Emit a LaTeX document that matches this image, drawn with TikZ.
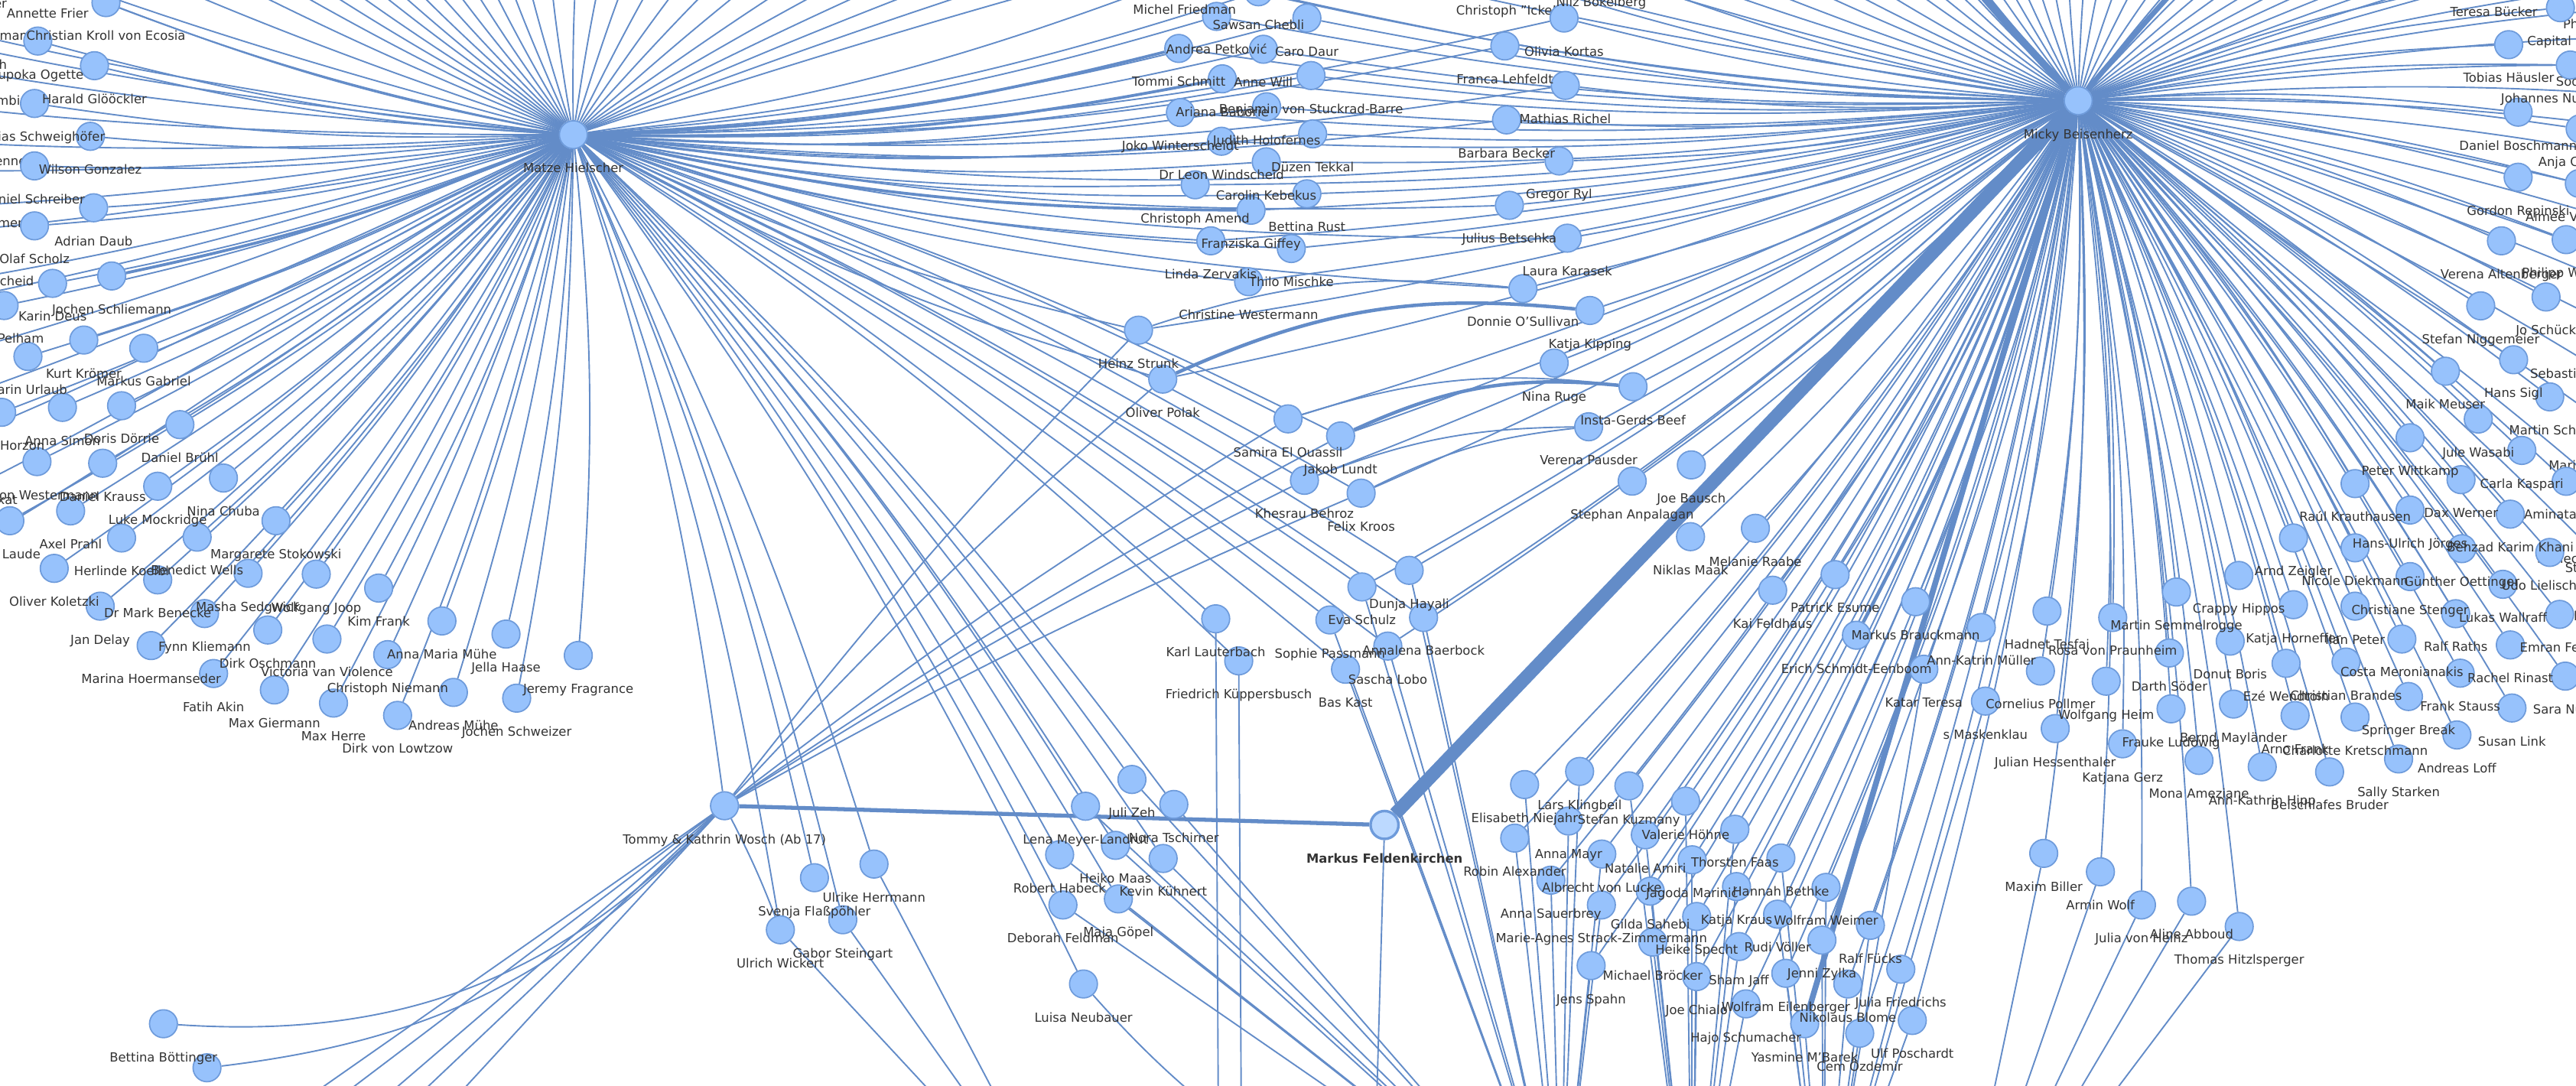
\documentclass[tikz,border=0pt]{standalone}
\usepackage{fontspec}
\setmainfont{DejaVu Sans}
\usetikzlibrary{calc}
\definecolor{edgec}{HTML}{638CC8}
\definecolor{nodef}{HTML}{97C2FC}
\definecolor{nodeb}{HTML}{6E9BDB}
\definecolor{selfill}{HTML}{BCD9FF}
\definecolor{labc}{HTML}{343434}
\pgfdeclarelayer{bg}
\pgfdeclarelayer{edges}
\pgfdeclarelayer{labels}
\pgfsetlayers{bg,edges,main,labels}
\tikzset{
 dot/.style={circle, fill=nodef, draw=nodeb, line width=0.45pt, minimum size=0.34cm, inner sep=0pt},
 lab/.style={font=\fontsize{4.35pt}{5pt}\selectfont, text=labc, inner sep=0pt, text height=3.2pt, text depth=0.9pt},
 ed/.style={draw=edgec, line width=0.5pt},
 edb/.style={draw=edgec, line width=1pt},
 bl/.style={bend left=5},
 br/.style={bend right=6},
}
\newcommand\pn[4]{\node[dot] (#1) at (#2,#3) {};\begin{pgfonlayer}{labels}\node[lab] (#1-l) at (#2,#3+21) {#4};\end{pgfonlayer}}
\newcommand\pnE[5]{\node[dot] (#1) at (#2,#3) {};\begin{pgfonlayer}{labels}\node[lab,anchor=east] (#1-l) at (#5,#3+21) {#4};\end{pgfonlayer}}
\newcommand\pnW[5]{\node[dot] (#1) at (#2,#3) {};\begin{pgfonlayer}{labels}\node[lab,anchor=west] (#1-l) at (#5,#3+21) {#4};\end{pgfonlayer}}
\begin{document}
\begin{tikzpicture}[x=0.02cm,y=-0.02cm]
\useasboundingbox (0,0) rectangle (1568,661);
\begin{pgfonlayer}{bg}\fill[white] (0,0) rectangle (1568,661);\end{pgfonlayer}
% fragments of labels of nodes outside the frame
\node[lab,anchor=east] (fr1) at (4.5,3) {er};
\node[lab,anchor=east] (fr2) at (22,22.5) {emann};
\node[lab,anchor=east] (fr3) at (4.5,40) {h};
\node[lab,anchor=east] (fr4) at (29,62) {mbiegel};
\node[lab,anchor=east] (fr5) at (19.5,99) {enner};
\node[lab,anchor=east] (fr6) at (16,136.5) {men};
\node[lab,anchor=east] (fr7) at (21,172) {cheid};
\node[lab,anchor=east] (fr8) at (11,305) {xat};
\node[lab,anchor=west] (fr9) at (1559.75,15.5) {Ph};
\node[lab,anchor=west] (fr10) at (1555.5,50.4) {Söder};
\node[lab,anchor=west] (fr11) at (1539.75,228) {Sebastian};
\node[lab,anchor=west] (fr12) at (1551,284.3) {Marie};
\node[lab,anchor=west] (fr13) at (1544,341) {Schlecky Silberstein};
\node[lab,anchor=west] (fr14) at (1561,346.4) {St};
\node[lab,anchor=west] (fr15) at (1559.75,375.6) {Til};
\node[dot] (cic) at (917,-14) {};
\node[lab,anchor=west] (cic-l) at (886,7) {Christoph "Icke"};
% hubs
\pn{MZ}{349}{82}{Matze Hielscher}
\pn{MK}{1265}{61.3}{Micky Beisenherz}
\pn{TW}{441}{490.5}{Tommy \& Kathrin Wosch (Ab 17)}
\node[dot, fill=selfill, line width=0.9pt] (MF) at (842.75,502.2) {};
\begin{pgfonlayer}{labels}\node[lab, font=\fontsize{4.35pt}{5pt}\selectfont\bfseries] (MF-l) at (842.75,523.2) {Markus Feldenkirchen};\end{pgfonlayer}
% left cluster
\pn{ann}{29}{-12}{Annette Frier}
\pn{ckv}{64.5}{1.6}{Christian Kroll von Ecosia}
\pnE{tog}{23}{25}{Tupoka Ogette}{51.25}
\pn{hgl}{57.5}{40}{Harald Glööckler}
\pnE{msw}{21}{63}{Matthias Schweighöfer}{64.25}
\pn{wgo}{55}{83}{Wilson Gonzalez}
\pnE{dsc}{21}{101}{Daniel Schreiber}{52}
\pn{ada}{57}{126.5}{Adrian Daub}
\pn{osc}{21}{137.5}{Olaf Scholz}
\pn{jsl}{68}{168}{Jochen Schliemann}
\pn{kde}{32}{172.5}{Karin Deus}
\pnE{mpe}{2.5}{186}{Moses Pelham}{27}
\pn{kkr}{51}{207}{Kurt Krömer}
\pn{mga}{87.5}{212}{Markus Gabriel}
\pnE{fur}{17}{217}{Farin Urlaub}{41.25}
\pnE{rho}{1}{251}{Rafael Horzon}{27.5}
\pn{asi}{38}{248}{Anna Simon}
\pn{ddo}{74}{247}{Doris Dörrie}
\pn{dbr}{109.5}{258.5}{Daniel Brühl}
\pn{owe}{22.5}{281}{Simon Westermann}
\pn{dkr}{62.5}{282}{Daniel Krauss}
\pn{lmo}{96}{296}{Luke Mockridge}
\pn{apr}{43}{311}{Axel Prahl}
\pnE{lau}{6}{317}{Laude}{25}
\pn{nch}{136}{291}{Nina Chuba}
\pn{bwe}{120}{327}{Benedict Wells}
\pn{hko}{74}{327.5}{Herlinde Koelbl}
\pn{mst}{168}{317}{Margarete Stokowski}
\pn{oko}{33}{346}{Oliver Koletzki}
\pn{mbe}{96}{353}{Dr Mark Benecke}
\pn{mse}{151}{349}{Masha Sedgwick}
\pn{wjo}{192.5}{349.5}{Wolfgang Joop}
\pn{jde}{61}{369}{Jan Delay}
\pn{fkl}{124.5}{373.5}{Fynn Kliemann}
\pn{kfr}{230.5}{358}{Kim Frank}
\pn{mho}{92}{393}{Marina Hoermanseder}
\pn{dos}{163}{383.5}{Dirk Oschmann}
\pn{vvv}{199}{389}{Victoria van Violence}
\pn{amm}{269}{378}{Anna Maria Mühe}
\pn{cni}{236}{398.5}{Christoph Niemann}
\pn{jha}{308}{386}{Jella Haase}
\pn{fak}{130}{410}{Fatih Akin}
\pn{mgi}{167}{420}{Max Giermann}
\pn{jfr}{352}{399}{Jeremy Fragrance}
\pn{mhe}{203}{428}{Max Herre}
\pn{amu}{276}{421.5}{Andreas Mühe}
\pn{jsw}{314.5}{425}{Jochen Schweizer}
\pn{dvl}{242}{435.5}{Dirk von Lowtzow}
% middle column 1
\pn{mfr}{721}{-14.5}{Michel Friedman}
\pn{sch}{766}{-5}{Sawsan Chebli}
\pn{ape}{740.5}{10}{Andrea Petković}
\pn{cda}{795.5}{11}{Caro Daur}
\pn{tsc}{717.5}{29.5}{Tommi Schmitt}
\pn{awi}{769}{30}{Anne Will}
\pn{bsb}{798}{46}{Benjamin von Stuckrad-Barre}
\pn{aba}{744}{48}{Ariana Baborie}
\pn{jho}{771}{65}{Judith Holofernes}
\pn{jwi}{718.5}{68.5}{Joko Winterscheidt}
\pn{dte}{799}{81.5}{Düzen Tekkal}
\pn{lwi}{743.5}{86}{Dr Leon Windscheid}
\pn{cke}{770.75}{98.5}{Carolin Kebekus}
\pn{cam}{727.5}{112.5}{Christoph Amend}
\pn{bru}{795.5}{118}{Bettina Rust}
\pn{fgi}{761.5}{128}{Franziska Giffey}
\pn{lze}{737}{146.6}{Linda Zervakis}
\pn{tmi}{786}{151.3}{Thilo Mischke}
\pn{cwe}{760}{171.5}{Christine Westermann}
\pn{hst}{693}{201}{Heinz Strunk}
\pn{opo}{707.75}{230.8}{Oliver Polak}
% middle column 2
\pn{nbo}{974.6}{-19}{Nilz Bokelberg}
\pn{oko2}{952}{11}{Olivia Kortas}
\pn{fle}{916}{28}{Franca Lehfeldt}
\pn{mri}{952.75}{52}{Mathias Richel}
\pn{bbe}{917}{73}{Barbara Becker}
\pn{gry}{949}{98}{Gregor Ryl}
\pn{jbe}{918.75}{125}{Julius Betschka}
\pn{lka}{954}{145}{Laura Karasek}
\pn{dos2}{927}{175.7}{Donnie O'Sullivan}
\pn{kki}{967.75}{189}{Katja Kipping}
\pn{nru}{946}{221}{Nina Ruge}
\pn{igb}{994}{235.4}{Insta-Gerds Beef}
\pn{vpa}{967}{259.8}{Verena Pausder}
\pn{jba}{1029.5}{283}{Joe Bausch}
\pn{san}{993.5}{292.9}{Stephan Anpalagan}
% middle lower
\pn{sel}{784}{255}{Samira El Ouassil}
\pn{jlu}{816}{265.4}{Jakob Lundt}
\pn{kbe}{794}{292.4}{Khesrau Behroz}
\pn{fkr}{828.5}{300.2}{Felix Kroos}
\pn{dha}{857.75}{347.2}{Dunja Hayali}
\pn{esc}{829}{357.3}{Eva Schulz}
\pn{aba2}{866.5}{375.9}{Annalena Baerbock}
\pn{spa}{809.5}{377.4}{Sophie Passmann}
\pn{slo}{844.75}{393.3}{Sascha Lobo}
\pn{bka}{819}{407.4}{Bas Kast}
\pn{kla}{740}{376.7}{Karl Lauterbach}
\pn{fku}{754}{402.3}{Friedrich Küppersbusch}
% below Micky
\pn{nma}{1029}{326.7}{Niklas Maak}
\pn{mra}{1068.5}{321.6}{Melanie Raabe}
\pn{kfe}{1079}{359.3}{Kai Feldhaus}
\pn{pes}{1117}{349.8}{Patrick Esume}
\pn{mbr}{1166}{366.3}{Markus Brauckmann}
\pn{ese}{1130}{386.7}{Erich Schmidt-Eenboom}
\pn{kte}{1171}{407.4}{Katar Teresa}
\pn{akm}{1206}{382}{Ann-Katrin Müller}
\pn{smk}{1208.5}{426.8}{s Maskenklau}
% right cluster
\pn{tbu}{1518}{-13}{Teresa Bücker}
\pnW{cbr}{1558.5}{4.7}{Capital Bra}{1538}
\pn{tha}{1527}{27.2}{Tobias Häusler}
\pnW{jna}{1564.5}{39.6}{Johannes Nussbaum}{1522}
\pn{dbo}{1532.75}{68.3}{Daniel Boschmann}
\pnW{anj}{1570.5}{78.4}{Anja Caspary}{1544.75}
\pn{gre}{1532.75}{107.9}{Gordon Repinski}
\pnW{aim}{1570}{111.7}{Aimée Vanhove}{1537}
\pn{val}{1522.6}{146.6}{Verena Altenberger}
\pnW{pwa}{1562}{145.9}{Philipp Walulis}{1534.75}
\pnW{jsc}{1549.75}{180.8}{Jo Schück}{1531}
\pn{sni}{1510}{186.2}{Stefan Niggemeier}
\pn{hsi}{1530}{219}{Hans Sigl}
\pn{mme}{1488.5}{226}{Maik Meuser}
\pnW{msc}{1552}{241.6}{Martin Schulz}{1527}
\pn{jwa}{1508.5}{255.1}{Jule Wasabi}
\pn{pwi}{1467}{266.5}{Peter Wittkamp}
\pn{cka}{1535}{274.2}{Carla Kaspari}
\pnW{ami}{1562}{293}{Aminata Touré}{1536}
\pn{dwe}{1498}{292}{Dax Werner}
\pn{rkr}{1433.5}{294.4}{Raúl Krauthausen}
\pn{huj}{1467}{310.5}{Hans-Ulrich Jörges}
\pn{bkk}{1528}{313}{Behzad Karim Khani}
\pnW{udo}{1552}{336.3}{Udo Lielischkies}{1522.25}
\pn{goe}{1498.5}{334}{Günther Oettinger}
\pn{ndi}{1433.5}{333.5}{Nicole Diekmann}
\pn{aze}{1396}{327.5}{Arnd Zeigler}
\pn{cst}{1467}{351}{Christiane Stenger}
\pn{lwa}{1523.5}{355.7}{Lukas Wallraff}
\pn{cha}{1362.75}{350.3}{Crappy Hippos}
\pn{mse2}{1324.75}{360.4}{Martin Semmelrogge}
\pn{khf}{1396}{368.1}{Katja Horneffer}
\pn{ipe}{1433.5}{369}{Ilan Peter}
\pn{ram}{1494.75}{373.6}{Ralf Raths}
\pnW{emf}{1558}{374}{Emran Feroz}{1533.5}
\pn{hte}{1246}{372}{Hadnet Tesfai}
\pn{rvp}{1286}{375.9}{Rosa von Praunheim}
\pn{cme}{1462}{389}{Costa Meronianakis}
\pn{rri}{1528}{392.6}{Rachel Rinast}
\pn{dbo2}{1357.5}{390.3}{Donut Boris}
\pn{dso}{1320.5}{397.5}{Darth Söder}
\pn{cbra}{1428}{403}{Christian Brandes}
\pn{ewe}{1391.5}{403.8}{Ezé Wendtoin}
\pn{cpo}{1242}{408.5}{Cornelius Pollmer}
\pn{fst}{1497.5}{409.8}{Frank Stauss}
\pnW{snu}{1561.5}{411.6}{Sara Nuru}{1541.5}
\pn{wgh}{1282}{414.7}{Wolfgang Heim}
\pn{spb}{1466}{424}{Springer Break}
\pn{flu}{1321.5}{431.5}{Frauke Ludowig}
\pn{bma}{1359.5}{428.6}{Bernd Mayländer}
\pn{sli}{1529}{431}{Susan Link}
\pn{afr}{1397}{435.6}{Arno Frank}
\pn{ckr}{1433.5}{436.5}{Charlotte Kretschmann}
\pn{jhe}{1251}{443.5}{Julian Hessenthaler}
\pn{alo}{1495.5}{447.4}{Andreas Loff}
\pn{kge}{1292}{452.8}{Katjana Gerz}
\pn{sst}{1460}{462}{Sally Starken}
\pn{mam}{1338.5}{462.9}{Mona Ameziane}
\pn{akh}{1377}{466.8}{Ann-Kathrin Hipp}
\pn{bbr}{1418}{469.9}{Beischlafes Bruder}
\pn{mbi}{1244}{519.5}{Maxim Biller}
\pn{awo}{1278.5}{530.7}{Armin Wolf}
\pn{jvh}{1303.5}{550.9}{Julia von Heinz}
\pn{aab}{1334}{548.6}{Aline Abboud}
\pn{thi}{1363}{564}{Thomas Hitzlsperger}
% group around Markus
\pn{eni}{928}{477.6}{Elisabeth Niejahr}
\pn{lkl}{961.5}{469.6}{Lars Klingbeil}
\pn{sku}{991.5}{478.4}{Stefan Kuzmany}
\pn{vho}{1026}{487.7}{Valerie Höhne}
\pn{ama}{954.75}{499.8}{Anna Mayr}
\pn{ral}{922}{510.2}{Robin Alexander}
\pn{nam}{1001.5}{508.2}{Natalie Amiri}
\pn{avl}{975}{519.9}{Albrecht von Lucke}
\pn{tfa}{1056}{504.8}{Thorsten Faas}
\pn{jma}{1030}{523.4}{Jagoda Marinić}
\pn{hbe}{1084}{522.3}{Hannah Bethke}
\pn{asa}{944}{535.8}{Anna Sauerbrey}
\pn{kkra}{1057}{539.7}{Katja Kraus}
\pn{gsa}{1004.5}{542.5}{Gilda Sahebi}
\pn{wwe}{1111.5}{540.2}{Wolfram Weimer}
\pn{msz}{974.75}{550.9}{Marie-Agnes Strack-Zimmermann}
\pn{hsp}{1032.75}{557.9}{Heike Specht}
\pn{rvo}{1082}{556.5}{Rudi Völler}
\pn{rfu}{1138.5}{563.3}{Ralf Fücks}
\pn{mbro}{1006}{573.5}{Michael Bröcker}
\pn{sja}{1058.5}{576.2}{Sham Jaff}
\pn{jzy}{1109}{572.3}{Jenni Zylka}
\pn{jsp}{968.5}{587.8}{Jens Spahn}
\pn{jch}{1032.75}{594.5}{Joe Chialo}
\pn{wei}{1087}{592.5}{Wolfram Eilenberger}
\pn{jfri}{1157}{590}{Julia Friedrichs}
\pn{nbl}{1124.75}{599}{Nikolaus Blome}
\pn{hsc}{1062.75}{611.1}{Hajo Schumacher}
\pn{ymb}{1098.5}{623.2}{Yasmine M'Barek}
\pn{coz}{1132}{629}{Cem Özdemir}
\pn{upo}{1164}{621.2}{Ulf Poschardt}
% group around Tommy
\pn{jze}{689}{474.5}{Juli Zeh}
\pn{lml}{660.75}{490.8}{Lena Meyer-Landrut}
\pn{nts}{714.5}{489.7}{Nora Tschirner}
\pn{hma}{679}{514.6}{Heiko Maas}
\pn{kku}{708}{522.6}{Kevin Kühnert}
\pn{rha}{645}{520.3}{Robert Habeck}
\pn{mgo}{680.75}{547.2}{Maja Göpel}
\pn{dfe}{647}{550.9}{Deborah Feldman}
\pn{lne}{659.5}{599}{Luisa Neubauer}
\pn{uhe}{532}{526}{Ulrike Herrmann}
\pn{sfl}{495.75}{534.3}{Svenja Flaßpöhler}
\pn{gst}{513}{559.9}{Gabor Steingart}
\pn{uwi}{475}{566}{Ulrich Wickert}
\pn{bbo}{99.5}{623.2}{Bettina Böttinger}
\node[dot] (nx1) at (126,650) {};
% off-frame ends
\coordinate (BA) at (655,760);
\coordinate (BE) at (950,760);
\coordinate (BF) at (1030,780);
\coordinate (BG) at (1110,770);
\coordinate (B2) at (1185,800);
\coordinate (BK) at (742,760);
\coordinate (BKF) at (756,760);
\coordinate (BM) at (836,740);
\begin{pgfonlayer}{edges}
\foreach \n in {ann,ckv,tog,hgl,msw,wgo,dsc,ada,osc,jsl,kde,mpe,kkr,mga,fur,rho,asi,ddo,dbr,owe,dkr,lmo,apr,lau,nch,bwe,hko,mst,oko,mbe,mse,wjo,jde,fkl,kfr,mho,dos,vvv,amm,cni,jha,fak,mgi,jfr,mhe,amu,jsw,dvl} \draw[ed] (MZ) to[bl] (\n);
\foreach \n in {mfr,sch,ape,cda,awi,bsb,jho,jwi,dte,lwi,cke,cam,bru,lze,tmi,cwe,hst,opo,oko2,fle,mri,bbe,gry,jbe,lka,dos2} \draw[ed] (MZ) to[br] (\n);
\foreach \n in {tsc,aba,fgi} \draw[edb] (MZ) to[br] (\n);
\draw[edb] (MZ) to[bl] (jsl);
\foreach \n in {sel,jlu,kbe,fkr,esc,spa,slo,bka,kla,fku,dha,aba2} \draw[ed] (MZ) to[bl] (\n);
\foreach \n in {TW,jze,lml,nts,hma,kku,rha,mgo,dfe,lne,uhe,sfl,gst,uwi} \draw[ed] (MZ) to[bl] (\n);
\foreach \x [count=\i] in {120,160,190,210,225,238,250,260,270,280,290,300,310,320,330,342,355,368,382,398,415,435,458,485,515,550,590,640,700}{\coordinate (zt\i) at ($(MZ)!2.6!(\x,0)$); \draw[ed] (MZ) to[bl] (zt\i);}
\foreach \y [count=\i] in {8,16,30,52,72,88,108,122,150,160,190,215,238,268,300}{\coordinate (zl\i) at ($(MZ)!1.8!(0,\y)$); \draw[ed] (MZ) to[bl] (zl\i);}
% Micky
\foreach \n in {mfr,sch,ape,cda,tsc,awi,bsb,aba,jho,jwi,dte,lwi,cke,cam,bru,fgi,lze,tmi,cwe,hst,opo,cic,nbo,oko2,fle,mri,bbe,gry,jbe,lka,dos2,kki,nru,igb,vpa,jba,san,sel,jlu,kbe,fkr,dha,esc,aba2,slo,nma,mra,kfe,pes,mbr,kte,akm,smk} \draw[ed] (MK) to[bl] (\n);
\foreach \n in {tbu,cbr,jna,dbo,anj,gre,aim,val,pwa,jsc,tha,sni,hsi,mme,msc,jwa,pwi,cka,ami,dwe,rkr,huj,bkk,udo,goe,ndi,aze,cst,lwa,cha,mse2,khf,ipe,ram,emf,hte,rvp,cme,rri,dbo2,dso,cbra,ewe,cpo,fst,snu,wgh,spb,flu,bma,sli,afr,ckr,jhe,alo,kge,sst,mam,akh,bbr,mbi,awo,jvh,aab,thi} \draw[ed] (MK) to[bl] (\n);
\foreach \n in {eni,lkl,sku,vho,ama,ral,nam,avl,tfa,jma,hbe,asa,kkra,gsa,wwe,msz,hsp,rvo,rfu,mbro,sja,jzy,jsp,jch,wei,jfri,nbl,hsc,coz,upo} \draw[ed] (MK) to[bl] (\n);
\draw[draw=edgec, line width=1.2pt] (MK) to[bl] (ese);
\draw[draw=edgec, line width=2pt] (MK) -- (ymb);
\draw[draw=edgec, line width=4.6pt] (MK) -- (MF);
\foreach \x [count=\i] in {1000,1040,1075,1100,1120,1140,1155,1170,1185,1195,1205,1212,1219,1226,1233,1240,1248,1256,1264,1272,1280,1290,1300,1312,1322,1332,1345,1360,1378,1398,1420,1445,1475,1510,1545}{\coordinate (kt\i) at ($(MK)!3!(\x,0)$); \draw[ed] (MK) to[bl] (kt\i);}
\foreach \y [count=\i] in {5,18,34,50,66,84,100,122,138,160,175,200,230,260,300,345}{\coordinate (kr\i) at ($(MK)!1.5!(1568,\y)$); \draw[ed] (MK) to[bl] (kr\i);}
\coordinate (kx1) at ($(MK)!3!(1216,0)$);
\coordinate (kx2) at ($(MK)!3!(1326,0)$);
\draw[draw=edgec, line width=2.5pt] (MK) to[bl] (kx1);
\draw[draw=edgec, line width=1.8pt] (MK) to[bl] (kx2);
% Tommy
\draw[draw=edgec, line width=1.4pt] (TW) -- (MF);
\foreach \n in {hst,opo,sel,kbe,fkr,jlu,uwi} \draw[ed] (TW) to[bend left=3] (\n);
\draw[ed] (TW) to[bend left=25] (bbo);
\draw[ed] (TW) to[bend left=20] (nx1);
\foreach \x [count=\i] in {197.5,216,242.5,261,284}{\coordinate (tb\i) at ($(TW)!1.6!(\x,661)$); \draw[ed] (TW) -- (tb\i);}
% other links
\draw[ed] (hst) to[bend left=12] (dos2);
\draw[draw=edgec, line width=1.2pt] (opo) to[bend left=15] (kki);
\draw[draw=edgec, line width=1.2pt] (jlu) to[bend left=15] (igb);
\draw[ed] (sel) to[bend left=12] (igb);
\draw[ed] (kbe) to[bend left=10] (vpa);
\draw[ed] (fkr) to[bend left=10] (vpa);
% lines leaving the frame downwards
\foreach \n in {uhe,gst,uwi} \draw[ed] (\n) -- (BA);
\foreach \n in {eni,lkl,ama,ral,avl,asa,msz,jsp,jze,lml,nts,hma,kku,rha,mgo,dfe,dha,esc,aba2,spa,slo,bka} \draw[ed] (\n) -- (BE);
\foreach \n in {sku,vho,nam,tfa,jma,kkra,gsa,hsp,mbro,sja,jch,hsc} \draw[ed] (\n) -- (BF);
\foreach \n in {hbe,wwe,rvo,rfu,jzy,wei,jfri,nbl,ymb,coz,upo,kte,smk} \draw[ed] (\n) -- (BG);
\foreach \n in {mbi,awo,jvh,aab,thi} \draw[ed] (\n) -- (B2);
\draw[ed] (lne) to[bend right=20] (BE);
\draw[ed] (kla) -- (BK);
\draw[ed] (fku) -- (BKF);
\draw[ed] (MF) -- (BM);
\end{pgfonlayer}
\end{tikzpicture}
\end{document}
